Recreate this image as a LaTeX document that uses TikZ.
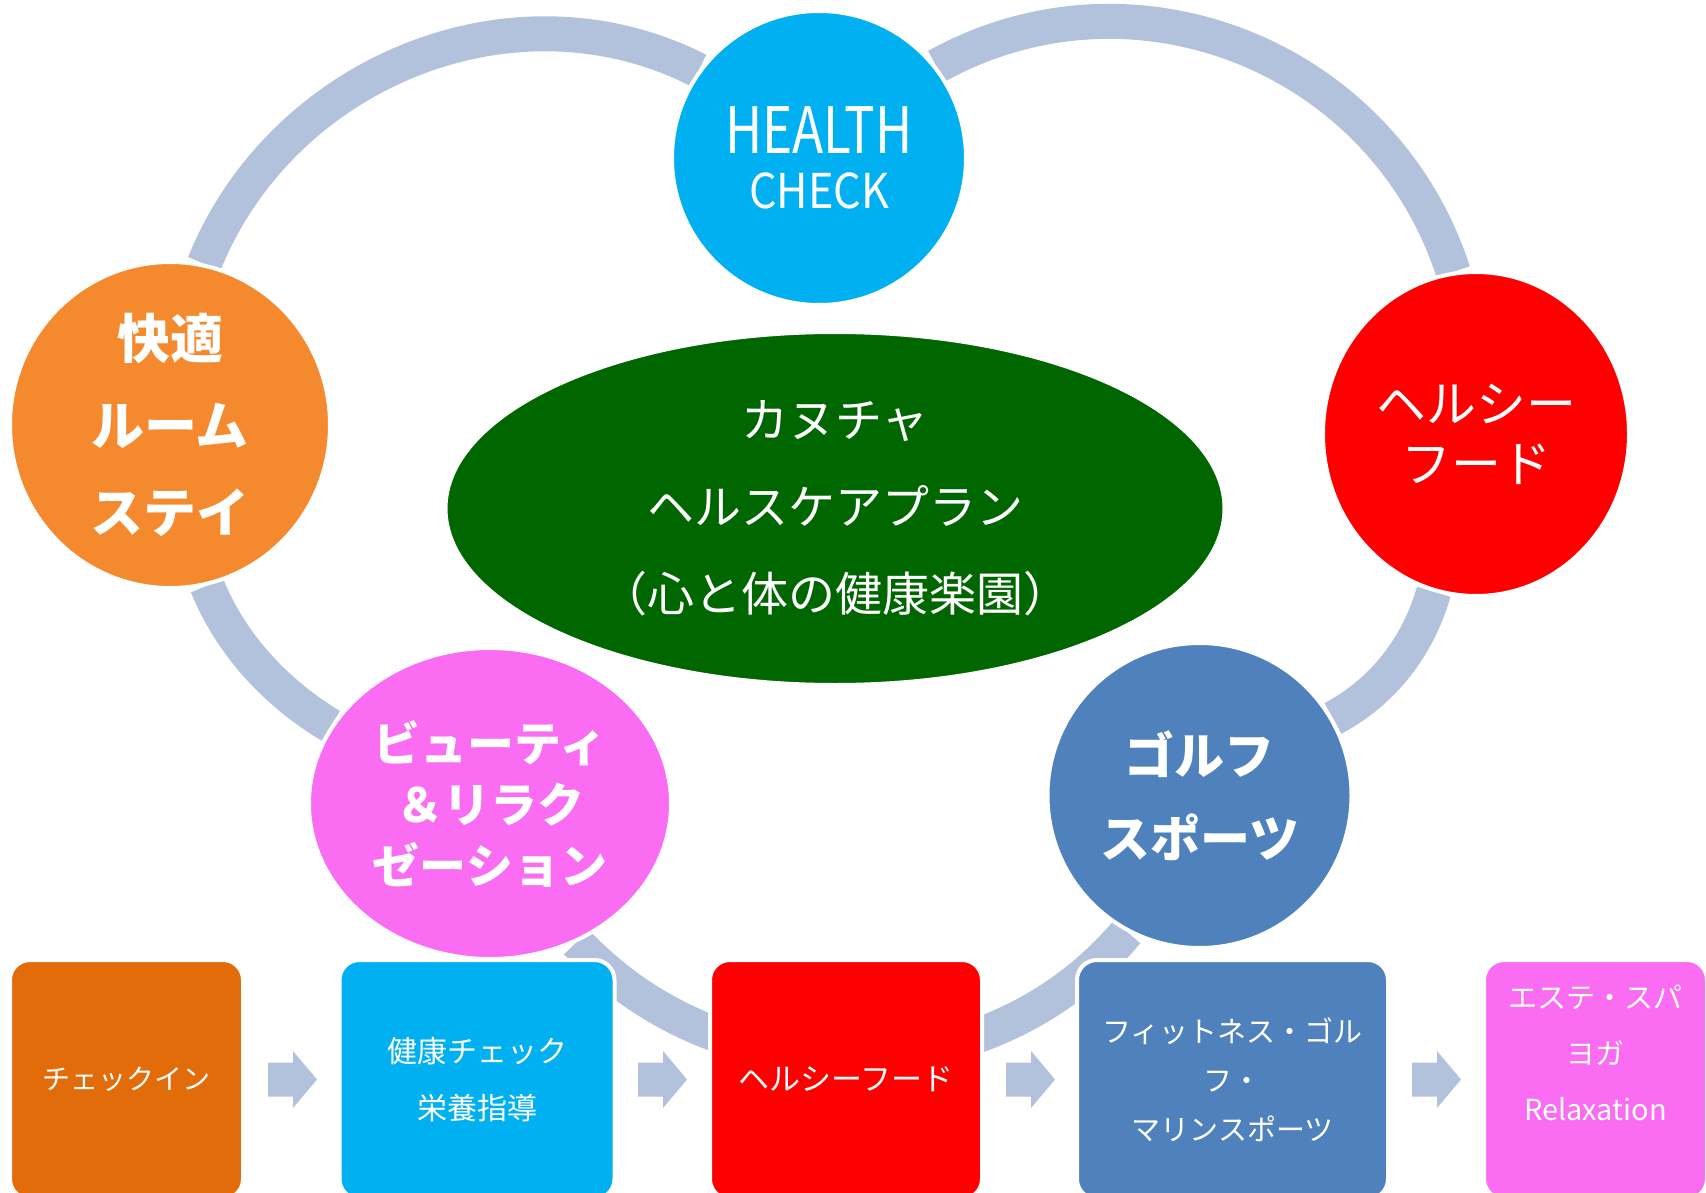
\documentclass[tikz,border=0pt]{standalone}
\usepackage{fontspec}
\setmainfont{Noto Sans CJK JP}
\usepackage{graphicx}
\usepackage{tikz}
\usetikzlibrary{shapes.geometric, backgrounds}
\definecolor{ringcolor}{HTML}{B3C2DC}
\definecolor{checkcyan}{HTML}{00B0F0}
\definecolor{stayorange}{HTML}{F5892D}
\definecolor{boxorange}{HTML}{E36C0A}
\definecolor{foodred}{HTML}{FF0000}
\definecolor{plangreen}{HTML}{006600}
\definecolor{beautypink}{HTML}{FA6CF1}
\definecolor{golfblue}{HTML}{4F81BD}

\begin{document}
\begin{tikzpicture}[x=1pt, y=-1pt,
        bubble/.style={ellipse, draw=white, line width=4pt, text=white, align=center, inner sep=0pt},
        stepbox/.style={draw=white, line width=4pt, rounded corners=20pt, text=white, align=center, inner sep=0pt, minimum height=239pt},
        ring/.style={ringcolor, line width=35pt}]
        % Page frame
        \useasboundingbox (0,0) rectangle (1706,1193);
        \clip (0,0) rectangle (1706,1193);

        % Cycle nodes
        \node[bubble, fill=checkcyan, minimum width=294pt, minimum height=294pt, font=\fontsize{48}{55}\selectfont] (hc) at (819,158) {{\fontsize{64}{64}\selectfont\scalebox{0.8}[1]{HEALTH}}\\\scalebox{0.9}[1]{CHECK}};
        \node[bubble, fill=stayorange, minimum width=320pt, minimum height=326pt, font=\bfseries\fontsize{53}{87}\selectfont] (stay) at (170,425) {快適\\ルーム\\ステイ};
        \node[bubble, fill=foodred, minimum width=306pt, minimum height=324pt, font=\fontsize{50}{60}\selectfont] (food) at (1476,434) {ヘルシー\\フード};
        \node[bubble, fill=plangreen, minimum width=779pt, minimum height=353pt, font=\fontsize{47}{87}\selectfont] (plan) at (835,508.5) {カヌチャ\\ヘルスケアプラン\\（心と体の健康楽園）};
        \node[bubble, fill=beautypink, minimum width=362pt, minimum height=311pt, font=\bfseries\fontsize{47}{61}\selectfont] (beauty) at (490,803.5) {ビューティ\\＆リラク\\ゼーション};
        \node[bubble, fill=golfblue, minimum width=304pt, minimum height=305pt, font=\bfseries\fontsize{50}{83}\selectfont] (golf) at (1199.5,795.5) {ゴルフ\\スポーツ};

        % Ring segments
        \begin{scope}[on background layer]
            \fill[white] (0,0) rectangle (1706,1193);
            \draw[ring] (stay.78) to[out=68, in=153] (hc.144);
            \draw[ring] (hc.38) to[out=29, in=108, looseness=1.04] (food.98);
            \draw[ring] (stay.-77) to[out=-68, in=149, looseness=0.87] (beauty.154);
            \draw[ring] (food.255) to[out=-106, in=28, looseness=0.9] (golf.30);
            \draw[ring] (beauty.-58) to[out=-47, in=-130] (golf.242);
        \end{scope}

        % Schedule boxes
        \node[stepbox, fill=boxorange, minimum width=233pt, font=\fontsize{28}{40}\selectfont] (checkin) at (126.5,1079.5) {チェックイン};
        \node[stepbox, fill=checkcyan, minimum width=275pt, font=\fontsize{30}{57}\selectfont] (kenko) at (477,1079.5) {健康チェック\\栄養指導};
        \node[stepbox, fill=foodred, minimum width=272pt, font=\fontsize{31}{40}\selectfont] (healthy) at (846,1079.5) {ヘルシーフード};
        \node[stepbox, fill=golfblue, minimum width=311pt, font=\fontsize{29}{49}\selectfont] (fitness) at (1232.5,1079.5) {フィットネス・ゴル\\フ・\\マリンスポーツ};
        \node[stepbox, fill=beautypink, minimum width=223pt] (spa) at (1595.5,1079.5) {};
        \node[text=white, align=center, font=\fontsize{29}{56}\selectfont] (spatext) at ([yshift=27pt]spa.center) {エステ・スパ\\ヨガ\\Relaxation};

        % Step arrows
        \foreach \ax in {268,638,1006,1412}
            \fill[ringcolor] (\ax,1062.5) -- ++(25,0) -- ++(0,-11.5) -- ++(24,28.5) -- ++(-24,28.5) -- ++(0,-11.5) -- ++(-25,0) -- cycle;
    \end{tikzpicture}
\end{document}
